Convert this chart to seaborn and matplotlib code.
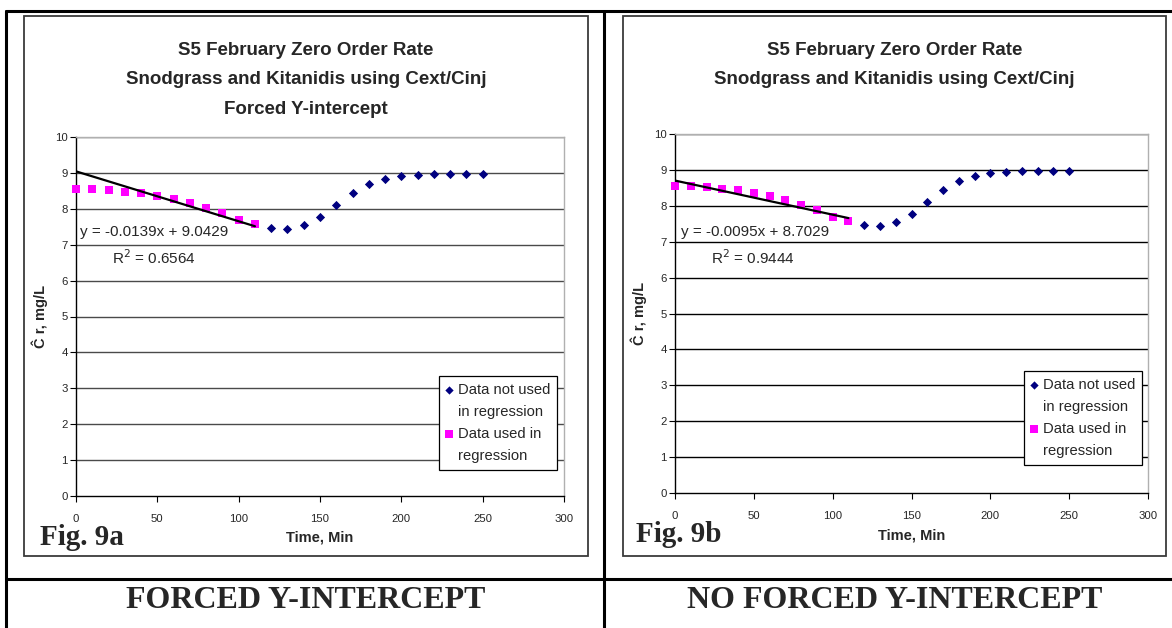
import numpy as np
import pandas as pd
import matplotlib
matplotlib.use("Agg")
import matplotlib.pyplot as plt
import seaborn as sns
from matplotlib.lines import Line2D
from matplotlib.patches import Rectangle

# ---------------- data ----------------
time_used = [0, 10, 20, 30, 40, 50, 60, 70, 80, 90, 100, 110]
conc_used = [8.56, 8.55, 8.51, 8.48, 8.43, 8.37, 8.28, 8.16, 8.03, 7.87, 7.70, 7.58]
time_not_used = [120, 130, 140, 150, 160, 170, 180, 190, 200, 210, 220, 230, 240, 250]
conc_not_used = [7.46, 7.44, 7.54, 7.77, 8.10, 8.44, 8.70, 8.83, 8.91, 8.94, 8.97, 8.97, 8.97, 8.97]

panel_titles = [
    "S5 February Zero Order Rate\nSnodgrass and Kitanidis using Cext/Cinj\nForced Y-intercept",
    "S5 February Zero Order Rate\nSnodgrass and Kitanidis using Cext/Cinj",
]
slopes = [-0.0139, -0.0095]
intercepts = [9.0429, 8.7029]
r_squared = [0.6564, 0.9444]
fig_labels = ["Fig. 9a", "Fig. 9b"]
captions = ["FORCED Y-INTERCEPT", "NO FORCED Y-INTERCEPT"]
series_labels = ["Data not used", "Data used in"]
series_labels_cont = ["in regression", "regression"]
x_ticks = [0, 50, 100, 150, 200, 250, 300]
y_ticks = [0, 1, 2, 3, 4, 5, 6, 7, 8, 9, 10]
x_label = "Time, Min"
y_label = "Ĉ r, mg/L"

# ---------------- style ----------------
sns.set_style("white")
SANS = ["Liberation Sans", "DejaVu Sans"]
SERIF = ["Liberation Serif", "DejaVu Serif"]
plt.rcParams["font.family"] = SANS

W, H = 1172, 628
fig = plt.figure(figsize=(W / 100, H / 100), dpi=100)


def fx(x):
    return x / W


def fy(y):
    return 1 - y / H


def ax_rect(x0, y0, x1, y1):
    return [fx(x0), fy(y1), (x1 - x0) / W, (y1 - y0) / H]


# table lines
tbl_lw = 2.2
for (x0, y0, x1, y1) in [(6, 11, W, 11), (6, 579, W, 579), (6, 11, 6, H), (604, 11, 604, H)]:
    fig.add_artist(Line2D([fx(x0), fx(x1)], [fy(y0), fy(y1)], color="black",
                          lw=tbl_lw, transform=fig.transFigure))

# chart boxes
boxes = [(24, 16, 588, 556), (623, 16, 1166, 556)]
for (x0, y0, x1, y1) in boxes:
    fig.add_artist(Rectangle((fx(x0), fy(y1)), (x1 - x0) / W, (y1 - y0) / H,
                             fill=False, edgecolor="#3a3a3a", lw=1.3,
                             transform=fig.transFigure))

plot_areas = [(76, 137, 564, 496), (675, 134, 1148, 493)]
grid_colors = ["#4a4a4a", "black"]
eq_pos = [(80, 232), (681, 232)]
r2_pos = [(112, 258), (711, 258)]
fig_pos = [(40, 545), (636, 542)]
legend_pos = [(439, 376), (1024, 371)]

blank = Line2D([], [], linestyle="none", marker=None)

for i in range(2):
    ax = fig.add_axes(ax_rect(*plot_areas[i]))
    ax.set_xlim(0, 300)
    ax.set_ylim(0, 10)
    for yv in y_ticks[1:]:
        ax.axhline(yv, color=grid_colors[i], lw=1.0, zorder=0)

    sns.scatterplot(x=time_not_used, y=conc_not_used, ax=ax, marker="D", s=22,
                    color="#000080", linewidth=0, label=series_labels[0],
                    clip_on=False, zorder=3)
    sns.scatterplot(x=time_used, y=conc_used, ax=ax, marker="s", s=38,
                    color="#FF00FF", linewidth=0, label=series_labels[1],
                    clip_on=False, zorder=3)

    fit_x = np.array([time_used[0], time_used[-1]])
    fit_y = slopes[i] * fit_x + intercepts[i]
    sns.lineplot(x=fit_x, y=fit_y, ax=ax, color="black", lw=1.6, zorder=4)

    ax.set_xticks(x_ticks)
    ax.set_yticks(y_ticks)
    ax.tick_params(axis="both", direction="out", length=4, width=0.8,
                   color="black", labelsize=8.2, left=True, bottom=True)
    ax.tick_params(axis="x", pad=9)
    ax.tick_params(axis="y", pad=2)
    for s in ["left", "bottom"]:
        ax.spines[s].set_color("black")
        ax.spines[s].set_linewidth(1.0)
    for s in ["top", "right"]:
        ax.spines[s].set_color("#b0b0b0")
        ax.spines[s].set_linewidth(1.0)
    ax.set_xlabel(x_label, fontsize=10.5, fontweight="bold", labelpad=5)
    ax.set_ylabel(y_label, fontsize=10.5, fontweight="bold", labelpad=5)

    # legend: one row per printed line, markers on the first line of each entry
    h, l = ax.get_legend_handles_labels()
    handles = [h[0], blank, h[1], blank]
    labels = [l[0], series_labels_cont[0], l[1], series_labels_cont[1]]
    leg = ax.legend(handles, labels, loc="upper left",
                    bbox_to_anchor=(fx(legend_pos[i][0]), fy(legend_pos[i][1])),
                    bbox_transform=fig.transFigure, borderaxespad=0,
                    frameon=True, fancybox=False, framealpha=1,
                    edgecolor="black", fontsize=10.6, handlelength=0.5,
                    handletextpad=0.35, borderpad=0.45, labelspacing=0.56,
                    markerscale=0.9)
    leg.get_frame().set_linewidth(0.9)

    # title
    bx0, by0, bx1, by1 = boxes[i]
    fig.text(fx((bx0 + bx1) / 2), fy(42), panel_titles[i], ha="center", va="top",
             fontsize=13.5, fontweight="bold", linespacing=1.95)

    # equation text
    fig.text(fx(eq_pos[i][0]), fy(eq_pos[i][1]),
             f"y = {slopes[i]:.4f}x + {intercepts[i]:.4f}",
             ha="left", va="center", fontsize=11)
    fig.text(fx(r2_pos[i][0]), fy(r2_pos[i][1]),
             f"R$^2$ = {r_squared[i]:.4f}", ha="left", va="center", fontsize=11)

    # figure label
    fig.text(fx(fig_pos[i][0]), fy(fig_pos[i][1]), fig_labels[i], ha="left",
             va="baseline", fontsize=21, fontweight="bold", family=SERIF)

    # caption
    fig.text(fx((bx0 + bx1) / 2), fy(601), captions[i], ha="center", va="center",
             fontsize=23, fontweight="bold", family=SERIF)

fig.savefig("out.png", dpi=100, facecolor="white")
